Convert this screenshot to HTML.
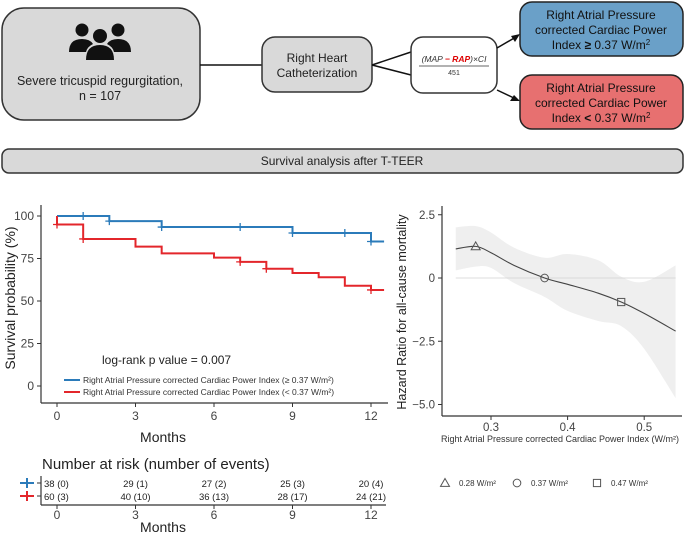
<!DOCTYPE html>
<html><head><meta charset="utf-8">
<style>
body{margin:0;background:#fff;width:685px;height:533px;overflow:hidden;font-family:"Liberation Sans",Arial,sans-serif;}
svg{position:absolute;left:0;top:0;}
text{font-family:"Liberation Sans",Arial,sans-serif;}
</style></head><body>
<svg id="s" width="685" height="533" viewBox="0 0 685 533" xmlns="http://www.w3.org/2000/svg">
<g>
  <rect x="2" y="8" width="198" height="112" rx="22" fill="#d9d9d9" stroke="#333" stroke-width="1.5"/>
  <g fill="#111">
    <circle cx="82" cy="30" r="6.5"/><circle cx="118" cy="30" r="6.5"/><circle cx="100" cy="36" r="7"/>
    <path d="M69 52 q0-13 13-13 q8 0 11 5 q-6 3-7 8 z"/>
    <path d="M131 52 q0-13-13-13 q-8 0-11 5 q6 3 7 8 z"/>
    <path d="M86 60 q0-15 14-15 q14 0 14 15 z"/>
  </g>
  <text x="100" y="85" font-size="12.5" text-anchor="middle" fill="#222">Severe tricuspid regurgitation,</text>
  <text x="100" y="100" font-size="12.5" text-anchor="middle" fill="#222">n = 107</text>
  <line x1="200" y1="65" x2="262" y2="65" stroke="#111" stroke-width="1.5"/>
  <rect x="262" y="37" width="110" height="55" rx="13" fill="#d9d9d9" stroke="#333" stroke-width="1.5"/>
  <text x="317" y="62" font-size="12" text-anchor="middle" fill="#222">Right Heart</text>
  <text x="317" y="77" font-size="12" text-anchor="middle" fill="#222">Catheterization</text>
  <line x1="372" y1="65" x2="411" y2="52" stroke="#111" stroke-width="1.5"/>
  <line x1="372" y1="65" x2="411" y2="75" stroke="#111" stroke-width="1.5"/>
  <rect x="411" y="37" width="86" height="56" rx="12" fill="#fff" stroke="#333" stroke-width="1.5"/>
  <text x="454" y="62" font-size="8.5" text-anchor="middle" font-family="Liberation Serif" font-style="italic" fill="#333">(MAP <tspan fill="#d00" font-weight="bold">− RAP</tspan>)×CI</text>
  <line x1="419" y1="66" x2="489" y2="66" stroke="#333" stroke-width="0.8"/>
  <text x="454" y="75" font-size="7" text-anchor="middle" font-family="Liberation Serif" fill="#333">451</text>
  <line x1="497" y1="48" x2="516" y2="37" stroke="#111" stroke-width="1.5"/>
  <polygon points="520,34 511,36 515,42" fill="#111"/>
  <line x1="497" y1="90" x2="516" y2="99" stroke="#111" stroke-width="1.5"/>
  <polygon points="520,101 510,101 514,95" fill="#111"/>
  <rect x="520" y="2" width="163" height="54" rx="12" fill="#6aa0c8" stroke="#222" stroke-width="1.5"/>
  <text x="601" y="19" font-size="12" text-anchor="middle" fill="#111">Right Atrial Pressure</text>
  <text x="601" y="34" font-size="12" text-anchor="middle" fill="#111">corrected Cardiac Power</text>
  <text x="601" y="49" font-size="12" text-anchor="middle" fill="#111">Index <tspan font-weight="bold">≥</tspan> 0.37 W/m<tspan font-size="8" dy="-4">2</tspan></text>
  <rect x="520" y="75" width="163" height="54" rx="12" fill="#e77070" stroke="#222" stroke-width="1.5"/>
  <text x="601" y="92" font-size="12" text-anchor="middle" fill="#111">Right Atrial Pressure</text>
  <text x="601" y="107" font-size="12" text-anchor="middle" fill="#111">corrected Cardiac Power</text>
  <text x="601" y="122" font-size="12" text-anchor="middle" fill="#111">Index <tspan font-weight="bold">&lt;</tspan> 0.37 W/m<tspan font-size="8" dy="-4">2</tspan></text>
  <rect x="2" y="149" width="681" height="24" rx="7" fill="#d9d9d9" stroke="#333" stroke-width="1.5"/>
  <text x="342" y="165" font-size="12" text-anchor="middle" fill="#222">Survival analysis after T-TEER</text>
</g>
<g id="km"></g>
<g id="hr"></g>
<g id="risk"></g>
</svg>
<script>
const NS="http://www.w3.org/2000/svg";
// KM data
const kmTicks=[0,3,6,9,12];
const kmYTicks=[0,25,50,75,100];
const blueTimes=[0,2,4,9,12,12.5];
const blueSurv=[100,97,93.5,90,85,85];
const blueCensor=[1,2,4,7,9,11,12];
const redTimes=[0,1,3,4,6,7,8,9,10,11,12,12.5];
const redSurv=[95,86.5,82,78,75.5,73,69,66.5,64,59,56.5,56.5];
const redCensor=[0,1,7,8,12];
// HR data
const hrX=[0.254,0.28,0.3,0.33,0.37,0.4,0.44,0.47,0.5,0.541];
const hrFit=[1.15,1.25,1.0,0.5,0,-0.25,-0.6,-0.95,-1.4,-2.1];
const hrUpper=[2.0,2.05,1.8,1.2,0.8,0.95,0.7,0.05,-0.15,0.5];
const hrLower=[0.3,0.45,0.4,-0.2,-0.75,-1.3,-1.7,-1.9,-2.8,-4.75];
const hrXTicks=[0.3,0.4,0.5];
const hrYTicks=[2.5,0,-2.5,-5.0];
const hrYLabels=["2.5","0","\u22122.5","\u22125.0"];
const refPoints=[0.28,0.37,0.47];
const refLabels=["0.28 W/m\u00b2","0.37 W/m\u00b2","0.47 W/m\u00b2"];
const refShapes=["triangle","circle","square"];
// risk table
const riskBlue=["38 (0)","29 (1)","27 (2)","25 (3)","20 (4)"];
const riskRed=["60 (3)","40 (10)","36 (13)","28 (17)","24 (21)"];

function mk(p,tag,a,txt){const e=document.createElementNS(NS,tag);for(const k in a)e.setAttribute(k,a[k]);if(txt!==undefined)e.textContent=txt;p.appendChild(e);return e;}
const kx=t=>57+t*(314/12), ky=v=>386-v*1.7;
const BLUE="#2b7bba", RED="#e3262b";
const km=document.getElementById('km');
let e;
e=mk(km,'line',{x1:41,y1:205,x2:41,y2:403,stroke:'#333','stroke-width':1.2});

e=mk(km,'line',{x1:41,y1:403,x2:388,y2:403,stroke:'#333','stroke-width':1.2});

kmYTicks.forEach(v=>{mk(km,'line',{x1:37,x2:41,y1:ky(v),y2:ky(v),stroke:'#333'});
 e=mk(km,'text',{x:34,y:ky(v)+4,'font-size':12,'text-anchor':'end',fill:'#444'},v);
 });
kmTicks.forEach(t=>{mk(km,'line',{x1:kx(t),x2:kx(t),y1:403,y2:407,stroke:'#333'});
 e=mk(km,'text',{x:kx(t),y:420,'font-size':12,'text-anchor':'middle',fill:'#444'},t);
 });
e=mk(km,'text',{x:163,y:442,'font-size':14,'text-anchor':'middle',fill:'#222'},'Months');

e=mk(km,'text',{x:15,y:298,'font-size':14,'text-anchor':'middle',fill:'#222',transform:'rotate(-90 15 298)'},'Survival probability (%)');

function stepPath(ts,ss,start){let d=`M${kx(0)},${ky(start)} L${kx(0)},${ky(ss[0])}`;for(let i=1;i<ts.length;i++){d+=` L${kx(ts[i])},${ky(ss[i-1])} L${kx(ts[i])},${ky(ss[i])}`;}return d;}
function survAt(ts,ss,t){let v=ss[0];for(let i=0;i<ts.length;i++)if(ts[i]<=t+1e-9)v=ss[i];return v;}
e=mk(km,'path',{d:stepPath(blueTimes,blueSurv,100),fill:'none',stroke:BLUE,'stroke-width':2});

e=mk(km,'path',{d:stepPath(redTimes,redSurv,100),fill:'none',stroke:RED,'stroke-width':2});

function censor(ts,ss,cs,col,name){cs.forEach(c=>{const vv=survAt(ts,ss,c);
 e=mk(km,'path',{d:`M${kx(c)-4},${ky(vv)} h8 M${kx(c)},${ky(vv)-4} v8`,stroke:col,'stroke-width':1.3});
 });}
censor(blueTimes,blueSurv,blueCensor,BLUE,'censor-mark-high');
censor(redTimes,redSurv,redCensor,RED,'censor-mark-low');
e=mk(km,'text',{x:102,y:364,'font-size':12,fill:'#222'},'log-rank p value = 0.007');

[[BLUE,'Right Atrial Pressure corrected Cardiac Power Index (\u2265 0.37 W/m\u00b2)',380],[RED,'Right Atrial Pressure corrected Cardiac Power Index (< 0.37 W/m\u00b2)',392]].forEach((l,i)=>{
 e=mk(km,'line',{x1:64,x2:80,y1:l[2],y2:l[2],stroke:l[0],'stroke-width':2});
 
 e=mk(km,'text',{x:83,y:l[2]+3,'font-size':8.5,fill:'#333'},l[1]);
 });

// HR plot
const hr=document.getElementById('hr');
const hx=v=>491+(v-0.3)*766, hy=v=>278-v*25.3;
function smooth(xs,ys){const p=xs.map((x,i)=>[hx(x),hy(ys[i])]);let d=`M${p[0][0]},${p[0][1]}`;
 for(let i=0;i<p.length-1;i++){const p0=p[i-1]||p[i],p1=p[i],p2=p[i+1],p3=p[i+2]||p2;
 d+=` C${p1[0]+(p2[0]-p0[0])/6},${p1[1]+(p2[1]-p0[1])/6} ${p2[0]-(p3[0]-p1[0])/6},${p2[1]-(p3[1]-p1[1])/6} ${p2[0]},${p2[1]}`;}return d;}
function smoothRev(xs,ys){return smooth(xs.slice().reverse(),ys.slice().reverse()).replace(/^M/,'L');}
e=mk(hr,'path',{d:smooth(hrX,hrUpper)+' '+smoothRev(hrX,hrLower)+' Z',fill:'#efefef',stroke:'none'});

e=mk(hr,'line',{x1:hx(hrX[0]),x2:hx(hrX[hrX.length-1]),y1:hy(0),y2:hy(0),stroke:'#d0d0d0','stroke-width':0.8});

e=mk(hr,'path',{d:smooth(hrX,hrFit),fill:'none',stroke:'#444','stroke-width':1.1});

e=mk(hr,'line',{x1:442,y1:206,x2:442,y2:416,stroke:'#333','stroke-width':1.2});

e=mk(hr,'line',{x1:442,y1:416,x2:682,y2:416,stroke:'#333','stroke-width':1.2});

hrYTicks.forEach((v,i)=>{mk(hr,'line',{x1:438,x2:442,y1:hy(v),y2:hy(v),stroke:'#333'});
 e=mk(hr,'text',{x:435,y:hy(v)+4,'font-size':11.5,'text-anchor':'end',fill:'#444'},hrYLabels[i]);
 });
hrXTicks.forEach(v=>{mk(hr,'line',{x1:hx(v),x2:hx(v),y1:416,y2:420,stroke:'#333'});
 e=mk(hr,'text',{x:hx(v),y:431,'font-size':11.5,'text-anchor':'middle',fill:'#444'},v.toFixed(1));
 });
e=mk(hr,'text',{x:560,y:442,'font-size':9,'text-anchor':'middle',fill:'#333'},'Right Atrial Pressure corrected Cardiac Power Index (W/m\u00b2)');

e=mk(hr,'text',{x:406,y:312,'font-size':12.5,'text-anchor':'middle',fill:'#222',transform:'rotate(-90 406 312)'},'Hazard Ratio for all-cause mortality');

function interp(xs,ys,x){for(let i=0;i<xs.length-1;i++)if(x>=xs[i]&&x<=xs[i+1]){const f=(x-xs[i])/(xs[i+1]-xs[i]);return ys[i]+f*(ys[i+1]-ys[i]);}return ys[0];}
function shape(p,s,cx,cy,r){if(s==='triangle')return mk(p,'polygon',{points:`${cx},${cy-r} ${cx-r},${cy+r*0.75} ${cx+r},${cy+r*0.75}`,fill:'none',stroke:'#555','stroke-width':1});
 if(s==='circle')return mk(p,'circle',{cx:cx,cy:cy,r:r*0.85,fill:'none',stroke:'#555','stroke-width':1});
 return mk(p,'rect',{x:cx-r*0.8,y:cy-r*0.8,width:r*1.6,height:r*1.6,fill:'none',stroke:'#555','stroke-width':1});}
refPoints.forEach((v,i)=>{e=shape(hr,refShapes[i],hx(v),hy(interp(hrX,hrFit,v)),4.5);
 });
const legX=[445,517,597];
refPoints.forEach((v,i)=>{e=shape(hr,refShapes[i],legX[i],483,4.5);
 
 e=mk(hr,'text',{x:legX[i]+14,y:486,'font-size':8,fill:'#333'},refLabels[i]);
 });

// risk table
const rk=document.getElementById('risk');
e=mk(rk,'text',{x:42,y:469,'font-size':15,fill:'#222'},'Number at risk (number of events)');

mk(rk,'line',{x1:41,y1:476,x2:41,y2:505,stroke:'#333','stroke-width':1.2});
mk(rk,'line',{x1:41,y1:505,x2:386,y2:505,stroke:'#333','stroke-width':1.2});
[[BLUE,483],[RED,496]].forEach(r=>{e=mk(rk,'path',{d:`M20,${r[1]} h14 M27,${r[1]-5} v10`,stroke:r[0],'stroke-width':2});
 
 mk(rk,'line',{x1:37,x2:41,y1:r[1],y2:r[1],stroke:'#333'});});
kmTicks.forEach((t,i)=>{const anc=i===0?'start':'middle';const x=i===0?44:kx(t);
 e=mk(rk,'text',{x:x,y:487,'font-size':9.5,'text-anchor':anc,fill:'#222'},riskBlue[i]);
 
 e=mk(rk,'text',{x:x,y:500,'font-size':9.5,'text-anchor':anc,fill:'#222'},riskRed[i]);
 
 mk(rk,'line',{x1:kx(t),x2:kx(t),y1:505,y2:509,stroke:'#333'});
 e=mk(rk,'text',{x:kx(t),y:519,'font-size':12,'text-anchor':'middle',fill:'#444'},t);
 });
e=mk(rk,'text',{x:163,y:532,'font-size':14,'text-anchor':'middle',fill:'#222'},'Months');

</script>
</body></html>
